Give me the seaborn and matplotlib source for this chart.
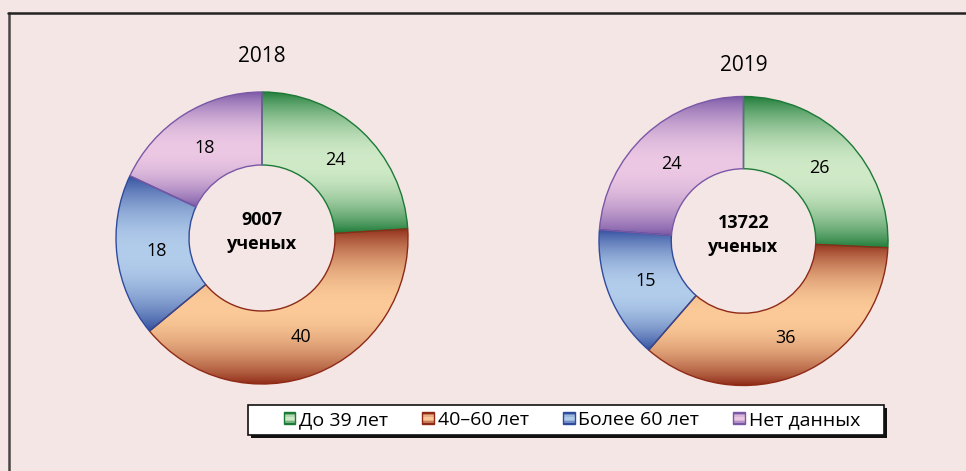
import numpy as np
import matplotlib
matplotlib.use("Agg")
import matplotlib.pyplot as plt
import seaborn as sns
from matplotlib.lines import Line2D
from matplotlib.patches import Rectangle, Patch
from matplotlib.colors import to_rgb
from matplotlib.legend_handler import HandlerBase

# data
categories = ['До 39 лет', '40–60 лет', 'Более 60 лет', 'Нет данных']
years = ['2018', '2019']
shares_2018 = [24, 40, 18, 18]
shares_2019 = [26, 36, 15, 24]
totals = [9007, 13722]

dark_colors = ['#1b7a36', '#8e2a16', '#2f4b9c', '#7a58a6']
light_colors = ['#d0eac8', '#fbca98', '#b2cdeb', '#ecc8e4']
bg = '#f5e6e6'

sns.set_style("white")
plt.rcParams['font.family'] = ['Open Sans', 'DejaVu Sans']
plt.rcParams['text.color'] = 'black'


def gradient(dark, light, n=200):
    t = np.linspace(0, 1, n)
    f = np.sin(np.pi * t) ** 0.8
    d = np.array(to_rgb(dark))
    l = np.array(to_rgb(light))
    rgb = d[None, :] * (1 - f[:, None]) + l[None, :] * f[:, None]
    return rgb[:, None, :]


def donut(ax, values, title, total, title_y):
    wedges, texts = ax.pie(values, startangle=90, counterclock=False, radius=1,
                           labels=[str(v) for v in values], labeldistance=0.73,
                           wedgeprops=dict(width=0.5, linewidth=1.0),
                           textprops=dict(fontsize=13, color='black',
                                          ha='center', va='center'))
    for w, dk, lt in zip(wedges, dark_colors, light_colors):
        w.set_facecolor('none')
        w.set_edgecolor(dk)
        w.set_zorder(3)
        ext = w.get_path().get_extents()
        im = ax.imshow(gradient(dk, lt), extent=(ext.x0, ext.x1, ext.y0, ext.y1),
                       origin='lower', aspect='auto', interpolation='bilinear', zorder=2)
        im.set_clip_path(w)
    for t in texts:
        t.set_zorder(5)
    ax.text(0, 0.04, f"{total}\nученых", ha='center', va='center', fontsize=13,
            fontweight='bold', color='black', linespacing=1.4, zorder=5)
    ax.set_xlim(-1.03, 1.03)
    ax.set_ylim(-1.03, 1.03)
    ax.set_aspect('equal')
    ax.axis('off')
    ax.text(0, title_y, title, ha='center', va='center', fontsize=15,
            color='black', transform=ax.transData)


class GradHandler(HandlerBase):
    def __init__(self, dark, light):
        super().__init__()
        self.dark = dark
        self.light = light

    def create_artists(self, legend, orig_handle, xdescent, ydescent, width,
                       height, fontsize, trans):
        size = height * 0.85
        x0 = -xdescent + width - size
        y0 = -ydescent + (height - size) / 2
        arts = []
        g = gradient(self.dark, self.light, 8)[:, 0, :]
        n = len(g)
        for i, c in enumerate(g):
            arts.append(Rectangle((x0, y0 + size * i / n), size, size / n + 0.2,
                                  facecolor=c, edgecolor='none', transform=trans))
        arts.append(Rectangle((x0, y0), size, size, facecolor='none',
                              edgecolor=self.dark, linewidth=1.0, transform=trans))
        return arts


fig = plt.figure(figsize=(9.66, 4.71), dpi=100)
fig.patch.set_facecolor(bg)

W, H = 966, 471
centers = [(262, 238, 146), (743.5, 241, 144.5)]
title_pix = [57, 66]
for (cx, cy, r), vals, yr, tot, ty in zip(centers, [shares_2018, shares_2019],
                                          years, totals, title_pix):
    rr = r * 1.03
    ax = fig.add_axes([(cx - rr) / W, (H - cy - rr) / H, 2 * rr / W, 2 * rr / H])
    ax.set_facecolor('none')
    donut(ax, vals, yr, tot, (cy - ty) / r)

# legend box with shadow
fig.add_artist(Rectangle(((248 + 3) / W, 1 - (435 + 3) / H), 636 / W, 30 / H,
                         transform=fig.transFigure, facecolor='#111111',
                         edgecolor='none', zorder=3))
fig.add_artist(Rectangle((248 / W, 1 - 435 / H), 636 / W, 30 / H,
                         transform=fig.transFigure, facecolor='white',
                         edgecolor='#111111', lw=1.2, zorder=4))

handles = [Patch(label=c) for c in categories]
handler_map = {h: GradHandler(d, l) for h, d, l in zip(handles, dark_colors, light_colors)}
leg = fig.legend(handles=handles, labels=categories, handler_map=handler_map,
                 loc='center', ncol=4,
                 bbox_to_anchor=(572 / W, 1 - 420 / H),
                 fontsize=14, frameon=False,
                 handlelength=0.6, handleheight=0.7, handletextpad=0.2,
                 columnspacing=1.75, borderpad=0.15, borderaxespad=0)
leg.set_zorder(6)

# frame lines
fig.add_artist(Line2D([8.5 / W, 8.5 / W], [0, 1 - 12.5 / H], color='#4a4444', lw=1.8,
                      transform=fig.transFigure))
fig.add_artist(Line2D([8 / W, 1], [1 - 12.5 / H, 1 - 12.5 / H], color='#222222', lw=1.8,
                      transform=fig.transFigure))

fig.savefig('out.png', dpi=100, facecolor=bg)
